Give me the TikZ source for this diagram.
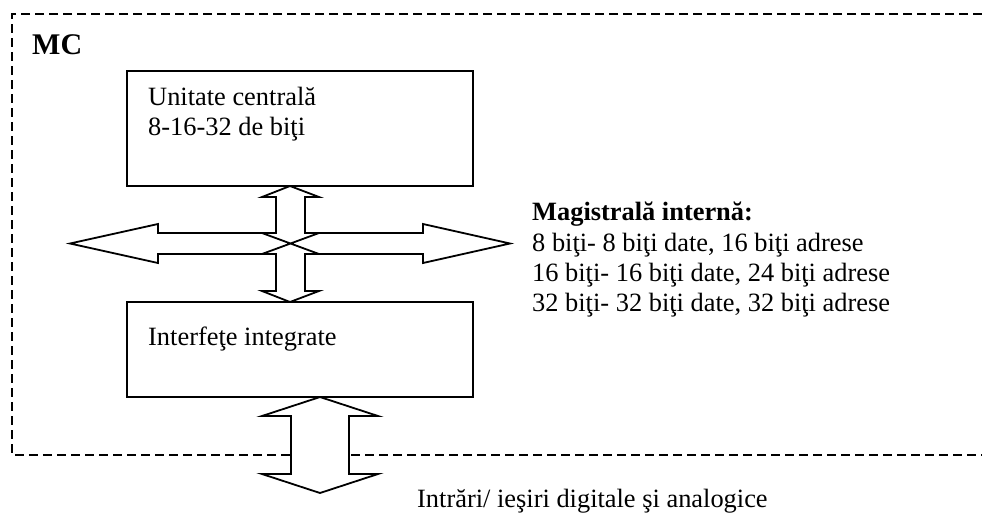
\documentclass[tikz,border=0pt]{standalone}
\usepackage{fontspec}
\setmainfont{Liberation Serif}
\usetikzlibrary{calc}
\begin{document}
\begin{tikzpicture}[x=1pt,y=-1pt,
  line/.style={draw=black,line width=1.8pt,line join=miter},
  frame/.style={draw=black,line width=1.8pt,dash pattern=on 9pt off 5pt},
  block/.style={line,fill=white,minimum width=346pt,inner sep=0pt},
  txt/.style={anchor=base west,inner sep=0pt,font=\fontsize{26.4}{30}\selectfont},
  boldtxt/.style={txt,font=\fontsize{26.4}{30}\selectfont\bfseries}]
\useasboundingbox (0,0) rectangle (982,512);

% dashed outline of the microcontroller
\coordinate (ftr) at (982,14);
\coordinate (ftl) at (12,14);
\coordinate (fbl) at (12,455);
\coordinate (fbr) at (982,455);
\draw[frame] (ftr) -- (ftl) -- (fbl) -- (fbr);

\node[anchor=base west,inner sep=0pt,font=\fontsize{30}{34}\selectfont\bfseries] (mc) at (32,54) {MC};

% blocks
\node[block,minimum height=115pt] (cpu) at (300,128.5) {};
\node[block,minimum height=95pt] (ifc) at (300,349.5) {};
\node[txt] (cpu1) at (148,105) {Unitate centrală};
\node[txt] (cpu2) at (148,135) {8-16-32 de biţi};
\node[txt] (ifc1) at (148,345) {Interfeţe integrate};

% internal bus: horizontal double arrow
\coordinate (hub) at (290,243.5);
\draw[line] ($(hub)+(-28,-10.5)$) -- ($(hub)+(-132,-10.5)$) -- ($(hub)+(-132,-19.5)$)
  -- ($(hub)+(-220,0)$) -- ($(hub)+(-132,19.5)$) -- ($(hub)+(-132,10.5)$) -- ($(hub)+(-28,10.5)$);
\draw[line] ($(hub)+(29,-10.5)$) -- ($(hub)+(133,-10.5)$) -- ($(hub)+(133,-19.5)$)
  -- ($(hub)+(220,0)$) -- ($(hub)+(133,19.5)$) -- ($(hub)+(133,10.5)$) -- ($(hub)+(29,10.5)$);

% vertical links between the blocks, crossing at the bus
\coordinate (vt) at (290,186);
\coordinate (vb) at (290,302);
\draw[line] (vt) -- ++(29,11) -- ++(-14,0) |- ($(hub)+(29,-10.5)$)
  -- ($(hub)+(-28,10.5)$) -- ++(14,0) |- ($(vb)+(-28,-11)$) -- (vb)
  -- ($(vb)+(29,-11)$) -- ++(-14,0) |- ($(hub)+(29,10.5)$)
  -- ($(hub)+(-28,-10.5)$) -- ++(14,0) |- ($(vt)+(-28,11)$) -- cycle;

% external inputs/outputs
\coordinate (et) at (320,397);
\coordinate (eb) at (320,493);
\draw[line,fill=white] (et) -- ++(58,19) -- ++(-29,0) -- ($(eb)+(29,-19)$) -- ++(29,0)
  -- (eb) -- ++(-58,-19) -- ++(29,0) -- ($(et)+(-29,19)$) -- ++(-29,0) -- cycle;
\node[txt] (io) at (417,507) {Intrări/ ieşiri digitale şi analogice};

% bus description
\node[boldtxt] (bus) at (532,220) {Magistrală internă:};
\node[txt] (bus1) at (532,251) {8 biţi- 8 biţi date, 16 biţi adrese};
\node[txt] (bus2) at (532,281) {16 biţi- 16 biţi date, 24 biţi adrese};
\node[txt] (bus3) at (532,311) {32 biţi- 32 biţi date, 32 biţi adrese};
\end{tikzpicture}
\end{document}
